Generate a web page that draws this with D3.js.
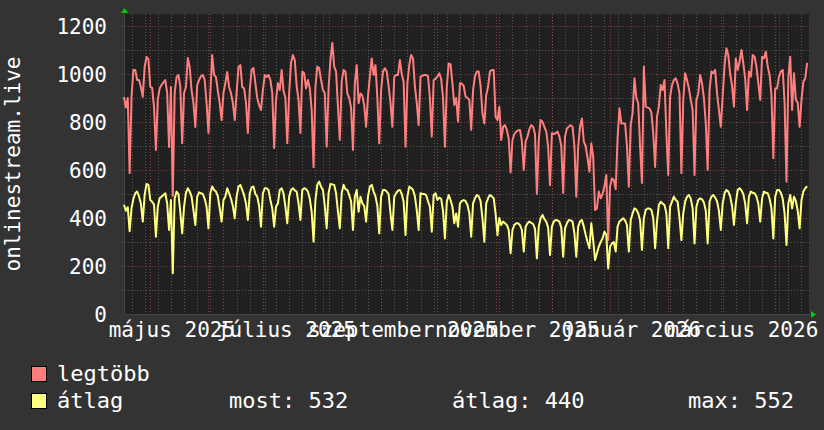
<!DOCTYPE html>
<html>
<head>
<meta charset="utf-8">
<script src="https://cdn.jsdelivr.net/npm/d3@7"></script>
<style>
  html, body { margin: 0; padding: 0; background: #333333; }
  svg { display: block; }
  text { font-family: "DejaVu Sans Mono", monospace; fill: #ffffff; }
</style>
</head>
<body>
<div id="chart"></div>
<script>
// Set Dimensions
const width = 824;
const height = 430;
const plotLeft = 124;
const plotRight = 809;
const plotTop = 14;
const plotBottom = 314;

// Data: one value per day, starting at startDay
const startDay = "2025-04-17";
const endDay = "2026-04-17";

const legtobb = [
  904,860,900,587,
  904,1017,1017,975,975,946,905,
  1029,1071,1062,946,942,862,683,
  892,940,954,965,975,921,696,
  946,492,921,987,996,946,712,
  921,946,1067,1029,933,880,779,
  954,975,990,996,975,879,754,
  921,1079,996,987,930,879,808,
  921,962,1008,946,920,880,808,
  921,1029,1037,946,940,880,754,
  933,1017,1025,962,900,870,850,
  933,996,987,996,975,921,692,
  892,962,933,1017,930,900,712,
  921,1046,1079,1058,950,892,754,
  1010,1003,940,975,940,850,612,
  947,1031,1024,975,933,920,697,
  940,1058,1130,1031,1010,864,725,
  968,1017,1010,919,900,860,683,
  961,1037,878,919,910,870,780,
  906,989,1065,996,1037,900,711,
  933,1010,1024,1010,950,880,780,
  989,996,996,1058,1000,968,697,
  961,1037,1079,1065,947,880,787,
  989,992,996,996,990,900,739,
  975,980,990,1003,980,900,697,
  947,1044,1040,961,871,900,801,
  961,960,950,906,900,892,767,
  933,990,1010,1010,950,836,794,
  912,947,1010,1017,1017,822,808,
  864,725,780,787,767,730,590,
  725,750,760,765,767,720,600,
  718,739,770,787,780,750,500,
  725,808,800,780,760,697,537,
  753,750,753,760,740,700,504,
  739,773,780,787,780,700,489,
  697,780,815,718,700,650,593,
  711,656,433,440,510,482,500,
  532,579,308,532,565,558,520,
  732,857,794,794,794,700,530,
  790,836,982,900,878,697,546,
  1031,864,860,857,840,753,613,
  822,864,954,933,975,753,579,
  906,954,975,982,960,919,587,
  892,1003,975,940,892,850,579,
  892,919,996,961,900,794,600,
  933,1010,1003,1017,919,850,780,
  906,1037,1107,1079,1000,950,864,
  1065,1017,1051,1100,1044,980,850,
  1010,989,1079,1072,1031,960,892,
  1072,1065,1093,1031,996,912,649,
  940,940,989,1010,1017,878,551,
  989,1072,850,1003,892,880,780,
  892,968,982,1046
];

const atlag = [
  455,430,445,345,
  440,480,503,510,490,460,385,
  496,542,538,475,468,455,322,
  447,482,489,496,503,461,350,
  475,170,480,510,500,425,336,
  447,505,524,510,490,433,371,
  489,507,503,500,480,447,357,
  503,531,517,510,490,440,385,
  475,489,524,503,480,450,399,
  489,531,538,517,495,460,392,
  503,528,531,500,489,450,364,
  503,524,524,517,475,440,364,
  447,460,517,524,503,447,378,
  489,517,524,515,510,461,392,
  517,524,520,510,480,426,301,
  475,538,552,530,517,450,357,
  503,542,540,538,503,426,357,
  503,538,520,517,495,470,350,
  489,517,426,489,461,450,385,
  489,531,538,510,490,450,336,
  489,517,517,510,500,419,350,
  489,503,514,517,500,468,329,
  489,531,525,517,490,433,350,
  503,500,500,495,470,447,343,
  496,503,475,485,480,430,315,
  468,496,475,447,378,419,364,
  461,470,475,470,454,420,322,
  461,482,496,490,470,399,301,
  461,482,496,490,482,419,329,
  400,371,385,378,371,350,253,
  350,371,378,378,370,350,260,
  364,378,385,380,375,355,232,
  364,399,413,395,385,360,246,
  364,385,392,390,385,360,239,
  357,378,392,390,385,336,239,
  364,385,392,364,330,300,274,
  378,308,225,253,281,300,315,
  343,330,190,281,294,300,260,
  364,385,392,399,390,370,260,
  392,419,440,435,420,390,267,
  399,433,440,440,433,400,274,
  385,454,468,460,454,420,274,
  447,468,489,475,468,399,308,
  419,468,489,496,480,440,294,
  447,475,482,478,465,430,294,
  468,489,496,485,470,430,350,
  460,503,517,510,490,450,371,
  461,517,524,515,500,460,378,
  489,510,505,503,490,460,385,
  482,510,505,503,480,440,315,
  489,517,517,505,480,419,288,
  461,496,440,489,470,430,357,
  475,510,524,532
];

const yTicks = [0, 200, 400, 600, 800, 1000, 1200];
const yMinorTicks = [100, 300, 500, 700, 900, 1100];
const monthNames = ["január", "február", "március", "április", "május", "június",
  "július", "augusztus", "szeptember", "október", "november", "december"];
const seriesNames = ["legtöbb", "átlag"];
const seriesColors = ["#ff7f7f", "#ffff80"];
const statLabels = ["most: 532", "átlag: 440", "max: 552"];

// Scales
const parseDay = d3.timeParse("%Y-%m-%d");
const start = parseDay(startDay);
const end = parseDay(endDay);
const days = legtobb.map((d, i) => d3.timeDay.offset(start, i));

const x = d3.scaleTime()
  .domain([start, end])
  .range([plotLeft, plotRight]);

const y = d3.scaleLinear()
  .domain([0, 1250])
  .range([plotBottom, plotTop]);

const svg = d3.select("#chart")
  .append("svg")
  .attr("width", width)
  .attr("height", height);

// Background and canvas
svg.append("rect")
  .attr("width", width)
  .attr("height", height)
  .attr("fill", "#333333");

svg.append("rect")
  .attr("x", plotLeft)
  .attr("y", plotTop)
  .attr("width", plotRight - plotLeft)
  .attr("height", plotBottom - plotTop)
  .attr("fill", "#202020");

const px = v => Math.round(v) + 0.5;

// Grid
const grid = svg.append("g")
  .attr("shape-rendering", "crispEdges")
  .attr("stroke-dasharray", "1,2");

const weeks = d3.timeMonday.range(start, end);
const months = d3.timeMonth.range(start, end);

grid.selectAll(".week")
  .data(weeks)
  .enter()
  .append("line")
  .attr("x1", d => px(x(d)))
  .attr("x2", d => px(x(d)))
  .attr("y1", plotTop)
  .attr("y2", plotBottom)
  .attr("stroke", "rgba(150,150,150,0.45)");

grid.selectAll(".ymin")
  .data(yMinorTicks)
  .enter()
  .append("line")
  .attr("x1", plotLeft - 2)
  .attr("x2", plotRight + 2)
  .attr("y1", d => px(y(d)))
  .attr("y2", d => px(y(d)))
  .attr("stroke", "rgba(150,150,150,0.45)");

grid.selectAll(".month")
  .data(months)
  .enter()
  .append("line")
  .attr("x1", d => px(x(d)))
  .attr("x2", d => px(x(d)))
  .attr("y1", plotTop)
  .attr("y2", plotBottom + 3)
  .attr("stroke", "rgba(220,80,80,0.55)");

grid.selectAll(".ymaj")
  .data(yTicks.slice(1))
  .enter()
  .append("line")
  .attr("x1", plotLeft - 2)
  .attr("x2", plotRight + 2)
  .attr("y1", d => px(y(d)))
  .attr("y2", d => px(y(d)))
  .attr("stroke", "rgba(220,80,80,0.55)");

// Axis lines
svg.append("line")
  .attr("x1", plotLeft).attr("x2", plotRight + 2)
  .attr("y1", px(plotBottom)).attr("y2", px(plotBottom))
  .attr("stroke", "#444444");

svg.append("line")
  .attr("x1", px(plotLeft)).attr("x2", px(plotLeft))
  .attr("y1", plotTop - 2).attr("y2", plotBottom)
  .attr("stroke", "#444444");

// Arrows
svg.append("path")
  .attr("d", `M${plotLeft - 3},13 L${plotLeft + 4},13 L${plotLeft + 0.5},8 Z`)
  .attr("fill", "#00cc00");

svg.append("path")
  .attr("d", `M${plotRight + 2},311 L${plotRight + 2},318 L${plotRight + 7},314.5 Z`)
  .attr("fill", "#00cc00");

// Lines
const line = d3.line()
  .x((d, i) => x(days[i]))
  .y(d => y(d));

[legtobb, atlag].forEach((series, s) => {
  svg.append("path")
    .datum(series)
    .attr("fill", "none")
    .attr("stroke", seriesColors[s])
    .attr("stroke-width", 2)
    .attr("stroke-linejoin", "round")
    .attr("d", line);
});

// Y labels
svg.append("g")
  .selectAll("text")
  .data(yTicks)
  .enter()
  .append("text")
  .attr("x", 107)
  .attr("y", d => y(d))
  .attr("dy", "0.36em")
  .style("font-size", "21px")
  .style("text-anchor", "end")
  .text(d => d);

// Y title
svg.append("text")
  .attr("transform", "translate(20,164) rotate(-90)")
  .style("font-size", "21px")
  .style("text-anchor", "middle")
  .text("onlinestream.live");

// X labels (every second month)
svg.append("g")
  .selectAll("text")
  .data(months.filter(m => m.getMonth() % 2 === 0))
  .enter()
  .append("text")
  .attr("x", d => x(d3.timeDay.offset(d, 11)) + 1)
  .attr("y", 337)
  .style("font-size", "21px")
  .style("text-anchor", "middle")
  .text(d => monthNames[d.getMonth()] + " " + d.getFullYear());

// Legend
seriesNames.forEach((name, i) => {
  svg.append("rect")
    .attr("x", 31.5)
    .attr("y", 366.5 + i * 27)
    .attr("width", 15)
    .attr("height", 15)
    .attr("fill", seriesColors[i])
    .attr("stroke", "#000000");
  svg.append("text")
    .attr("x", 57)
    .attr("y", 381 + i * 27)
    .style("font-size", "22px")
    .text(name);
});

const statX = [229, 452, 688];
statLabels.forEach((s, i) => {
  svg.append("text")
    .attr("x", statX[i])
    .attr("y", 408)
    .style("font-size", "22px")
    .text(s);
});
</script>
</body>
</html>
